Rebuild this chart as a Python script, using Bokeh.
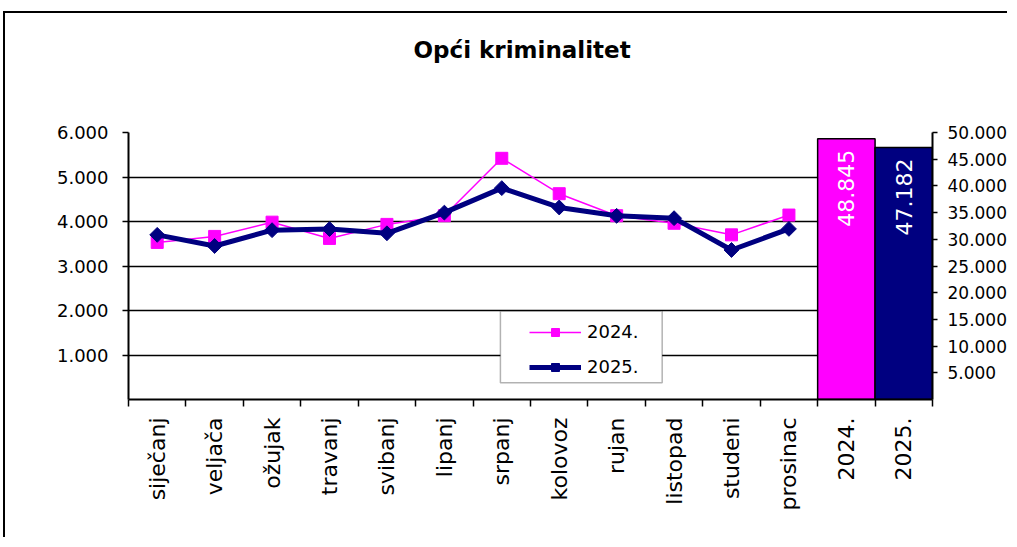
import numpy as np
from bokeh.plotting import figure
from bokeh.models import (Range1d, LinearAxis, FixedTicker, Legend, LegendItem,
                          BoxAnnotation, Title, Grid)
from bokeh.embed import file_html
from bokeh.resources import INLINE

# ---------------- data ----------------
months = ["siječanj", "veljača", "ožujak", "travanj", "svibanj", "lipanj",
          "srpanj", "kolovoz", "rujan", "listopad", "studeni", "prosinac"]
values_2024 = [3530, 3665, 3985, 3620, 3935, 4130, 5420, 4625, 4130, 3960, 3700, 4145]
values_2025 = [3700, 3450, 3805, 3830, 3735, 4200, 4750, 4315, 4128, 4075, 3360, 3834]
total_years = ["2024.", "2025."]
totals = [48845, 47182]
total_labels = ["48.845", "47.182"]
left_ticks = [1000, 2000, 3000, 4000, 5000, 6000]
left_tick_labels = ["1.000", "2.000", "3.000", "4.000", "5.000", "6.000"]
right_ticks = [5000, 10000, 15000, 20000, 25000, 30000, 35000, 40000, 45000, 50000]
right_tick_labels = ["5.000", "10.000", "15.000", "20.000", "25.000", "30.000",
                     "35.000", "40.000", "45.000", "50.000"]
title_text = "Opći kriminalitet"

PINK = "#FF00FF"
NAVY = "#000080"
FONT = "DejaVu Sans"

categories = months + total_years
n_cat = len(categories)
centers = [float(i) + 0.5 for i in range(n_cat)]
month_x = centers[:len(months)]
bar_x = centers[len(months):]

p = figure(width=1004, height=526, output_backend="svg", toolbar_location=None,
           x_range=Range1d(0, n_cat), y_range=Range1d(0, 6000),
           min_border_left=123, min_border_right=75, min_border_top=119,
           min_border_bottom=140, x_axis_type=None, y_axis_type=None)
p.styles = {"box-shadow": "-2px -2px 0px 0px black",
            "margin-top": "13px", "margin-left": "5px",
            "width": "1004px", "height": "526px"}
p.outline_line_color = None
p.background_fill_color = "white"
p.border_fill_color = "white"
p.extra_y_ranges = {"right": Range1d(0, 50000)}

# title: real title above an empty spacer title
p.title = Title(text=title_text, align="left", offset=285, standoff=4,
                vertical_align="bottom", text_font=FONT, text_font_size="23px",
                text_font_style="bold", text_color="black")
p.add_layout(Title(text=" ", text_font=FONT, text_font_size="57px", standoff=0), "above")

# axes
yleft = LinearAxis(ticker=FixedTicker(ticks=left_ticks),
                   major_label_overrides={t: l for t, l in zip(left_ticks, left_tick_labels)})
yright = LinearAxis(y_range_name="right", ticker=FixedTicker(ticks=right_ticks),
                    major_label_overrides={t: l for t, l in zip(right_ticks, right_tick_labels)})
xaxis = LinearAxis(ticker=FixedTicker(ticks=centers, minor_ticks=list(range(n_cat + 1))),
                   major_label_overrides={c: lab for c, lab in zip(centers, categories)},
                   major_label_orientation=np.pi / 2)

for ax in (yleft, yright, xaxis):
    ax.axis_line_color = "black"
    ax.axis_line_width = 2
    ax.major_tick_line_color = "black"
    ax.major_tick_line_width = 1.5
    ax.major_tick_in = 0
    ax.minor_tick_line_color = None
    ax.major_label_text_font = FONT
    ax.major_label_text_color = "black"

yleft.major_tick_out = 6
yleft.major_label_standoff = 14
yleft.major_label_text_font_size = "18px"
yright.major_tick_out = 5
yright.major_label_standoff = 10
yright.major_label_text_font_size = "17px"
xaxis.major_tick_out = 0
xaxis.major_tick_line_color = None
xaxis.minor_tick_line_color = "black"
xaxis.minor_tick_line_width = 1.5
xaxis.minor_tick_in = 0
xaxis.minor_tick_out = 7
xaxis.major_label_standoff = 11
xaxis.major_label_text_font_size = "22px"

p.add_layout(yleft, "left")
p.add_layout(yright, "right")
p.add_layout(xaxis, "below")

# horizontal gridlines
grid = Grid(dimension=1, ticker=FixedTicker(ticks=left_ticks),
            grid_line_color="black", grid_line_width=1.5)
p.add_layout(grid, "center")

# bars (right axis)
p.vbar(x=bar_x, top=totals, width=1.0, bottom=0, y_range_name="right",
       fill_color=[PINK, NAVY], line_color="black", line_width=1.5)
p.text(x=bar_x, y=totals, text=total_labels, y_range_name="right",
       angle=np.pi / 2, text_align="right", text_baseline="middle",
       y_offset=11, text_color="white", text_font={"value": FONT},
       text_font_size="22px")

# lines
l24 = p.line(month_x, values_2024, line_color=PINK, line_width=1.5)
s24 = p.scatter(month_x, values_2024, marker="square", size=12,
                fill_color=PINK, line_color=PINK)
l25 = p.line(month_x, values_2025, line_color=NAVY, line_width=5)
s25 = p.scatter(month_x, values_2025, marker="square", angle=np.pi / 4, size=10.5,
                fill_color=NAVY, line_color=NAVY)

# legend box
box = BoxAnnotation(left=6.476, right=9.293, bottom=375, top=1984,
                    fill_color="white", fill_alpha=1.0, line_color="black",
                    line_width=1.5)
p.add_layout(box)

legend = Legend(items=[LegendItem(label=total_years[0], renderers=[l24, s24]),
                       LegendItem(label=total_years[1], renderers=[l25, s25])],
                location=(401, 22), padding=5, margin=0, spacing=14,
                glyph_width=52, glyph_height=20, label_standoff=6,
                label_text_font=FONT, label_text_font_size="18px",
                label_text_color="black",
                border_line_color=None, background_fill_alpha=0)
p.add_layout(legend, "center")

open("out.html", "w").write(file_html(p, INLINE))
